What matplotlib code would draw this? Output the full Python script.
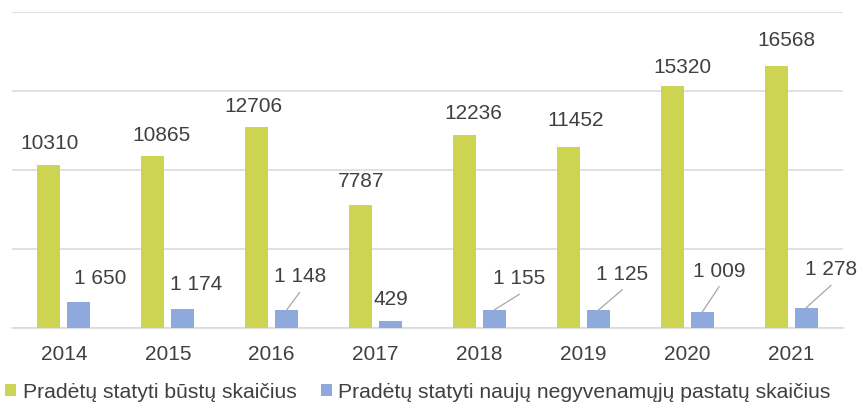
import matplotlib
matplotlib.use("Agg")
import matplotlib.pyplot as plt
from matplotlib.patches import Patch
import numpy as np

years = ["2014", "2015", "2016", "2017", "2018", "2019", "2020", "2021"]
dwellings = [10310, 10865, 12706, 7787, 12236, 11452, 15320, 16568]
nonres = [1650, 1174, 1148, 429, 1155, 1125, 1009, 1278]
dwell_labels = ["10310", "10865", "12706", "7787", "12236", "11452", "15320", "16568"]
nonres_labels = ["1 650", "1 174", "1 148", "429", "1 155", "1 125", "1 009", "1 278"]
series_names = ["Pradėtų statyti būstų skaičius",
                "Pradėtų statyti naujų negyvenamųjų pastatų skaičius"]

# layout: label offsets in pixels from bar top centre (dx, dy up)
green_offsets = [(1, 22), (9, 21), (-3, 21), (1, 23), (9, 21), (7, 27), (10, 18), (10, 26)]
blue_offsets = [(21, 23), (13, 25), (13, 33), (0, 22), (25, 31), (24, 36), (17, 41), (25, 38)]

GREEN = "#CDD452"
BLUE = "#8EAADC"
TEXT = "#404040"
GRID = "#D9D9D9"

plt.rcParams["font.family"] = ["Liberation Sans", "DejaVu Sans"]

fig = plt.figure(figsize=(8.58, 4.03), dpi=100)
W, H = 858, 403
ax = fig.add_axes([12 / W, (H - 328) / H, (843 - 12) / W, (328 - 12) / H])

x = np.arange(len(years))
bw = 0.2214
off = 0.1444
ax.bar(x - off, dwellings, bw, color=GREEN, zorder=3)
ax.bar(x + off, nonres, bw, color=BLUE, zorder=3)

ax.set_xlim(-0.5, len(years) - 0.5)
ax.set_ylim(0, 20000)
ax.set_yticks([0, 5000, 10000, 15000, 20000])
ax.yaxis.grid(True, color=GRID, linewidth=1.1, zorder=0)
ax.set_yticklabels([])
ax.tick_params(axis="y", length=0)
ax.set_xticks(x)
ax.set_xticklabels(years, fontsize=15, color=TEXT)
ax.tick_params(axis="x", length=0, pad=12)
for s in ["top", "right", "left"]:
    ax.spines[s].set_visible(False)
ax.spines["bottom"].set_color(GRID)
ax.spines["bottom"].set_linewidth(1.1)

for i in range(len(years)):
    dx, dy = green_offsets[i]
    ax.annotate(dwell_labels[i], (x[i] - off, dwellings[i]), xytext=(dx, dy),
                textcoords="offset pixels", ha="center", va="center",
                fontsize=15, color=TEXT)
    dx, dy = blue_offsets[i]
    ax.annotate(nonres_labels[i], (x[i] + off, nonres[i]), xytext=(dx, dy),
                textcoords="offset pixels", ha="center", va="center",
                fontsize=15, color=TEXT)
    if dy > 30:
        ax.annotate("", (x[i] + off, nonres[i]), xytext=(dx, dy - 15.5),
                    textcoords="offset pixels",
                    arrowprops=dict(arrowstyle="-", color="#A6A6A6", lw=0.9,
                                    shrinkA=0, shrinkB=0))

handles = [Patch(facecolor=GREEN), Patch(facecolor=BLUE)]
fig.legend(handles, series_names, loc="center left", bbox_to_anchor=(0.0, 1 - 392 / H),
           ncol=2, frameon=False, fontsize=15.2, labelcolor=TEXT,
           handlelength=0.53, handleheight=0.53, handletextpad=0.3,
           columnspacing=1.15, borderpad=0, borderaxespad=0.25)

fig.savefig("out.png", dpi=100)
